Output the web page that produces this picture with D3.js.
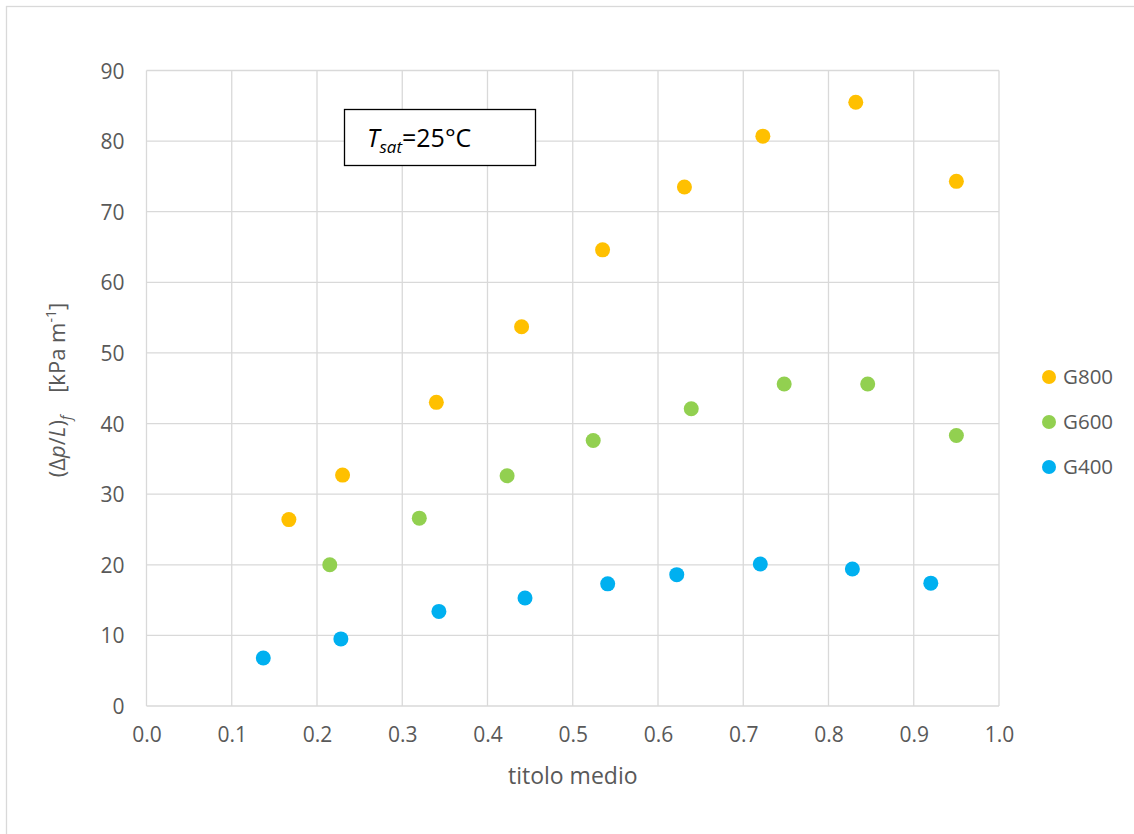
<!DOCTYPE html>
<html>
<head>
<meta charset="utf-8">
<script src="https://cdn.jsdelivr.net/npm/d3@7"></script>
<style>
  body { margin: 0; background: #fff; }
  svg { font-family: "Open Sans", "DejaVu Sans", sans-serif; }
</style>
</head>
<body>
<div id="chart"></div>
<script>
// values
const xG800 = [0.167, 0.230, 0.340, 0.440, 0.535, 0.631, 0.723, 0.832, 0.950];
const yG800 = [26.4, 32.7, 43.0, 53.7, 64.6, 73.5, 80.7, 85.5, 74.3];
const xG600 = [0.215, 0.320, 0.423, 0.524, 0.639, 0.748, 0.846, 0.950];
const yG600 = [20.0, 26.6, 32.6, 37.6, 42.1, 45.6, 45.6, 38.3];
const xG400 = [0.137, 0.228, 0.343, 0.444, 0.541, 0.622, 0.720, 0.828, 0.920];
const yG400 = [6.8, 9.5, 13.4, 15.3, 17.3, 18.6, 20.1, 19.4, 17.4];
const seriesNames = ["G800", "G600", "G400"];
const seriesColors = ["#FFC000", "#92D050", "#00B0F0"];
const xTicks = [0, 0.1, 0.2, 0.3, 0.4, 0.5, 0.6, 0.7, 0.8, 0.9, 1.0];
const yTicks = [0, 10, 20, 30, 40, 50, 60, 70, 80, 90];

const series = [
  { name: seriesNames[0], color: seriesColors[0], pts: xG800.map((x, i) => [x, yG800[i]]) },
  { name: seriesNames[1], color: seriesColors[1], pts: xG600.map((x, i) => [x, yG600[i]]) },
  { name: seriesNames[2], color: seriesColors[2], pts: xG400.map((x, i) => [x, yG400[i]]) }
];

const W = 1134, H = 834;
const plot = { left: 146.5, right: 999, top: 70.5, bottom: 706 };
const textColor = "#595959", gridColor = "#d9d9d9";

const svg = d3.select("#chart").append("svg")
  .attr("width", W)
  .attr("height", H);

// outer chart frame
svg.append("rect")
  .attr("x", 6.5).attr("y", 6.5)
  .attr("width", W + 20).attr("height", H + 20)
  .attr("fill", "none")
  .attr("stroke", gridColor)
  .attr("stroke-width", 1.3);

const x = d3.scaleLinear().domain([0, 1]).range([plot.left, plot.right]);
const y = d3.scaleLinear().domain([0, 90]).range([plot.bottom, plot.top]);

// gridlines
const grid = svg.append("g").attr("stroke", gridColor).attr("stroke-width", 1.3);
grid.selectAll("line.v")
  .data(xTicks)
  .join("line")
  .attr("x1", d => x(d)).attr("x2", d => x(d))
  .attr("y1", plot.top).attr("y2", plot.bottom);
grid.selectAll("line.h")
  .data(yTicks)
  .join("line")
  .attr("x1", plot.left).attr("x2", plot.right)
  .attr("y1", d => y(d)).attr("y2", d => y(d));

// axes (labels only, lines come from the grid)
const xAxis = svg.append("g")
  .attr("transform", `translate(0,${plot.bottom})`)
  .call(d3.axisBottom(x).tickValues(xTicks).tickFormat(d3.format(".1f")).tickSize(0).tickPadding(22));
const yAxis = svg.append("g")
  .attr("transform", `translate(${plot.left},0)`)
  .call(d3.axisLeft(y).tickValues(yTicks).tickSize(0).tickPadding(22));
[xAxis, yAxis].forEach(a => {
  a.select(".domain").remove();
  a.selectAll("text")
    .attr("fill", textColor)
    .style("font-size", "21px")
    .style("font-family", "\"Open Sans\", sans-serif");
});
xAxis.selectAll("text").attr("dy", "0.68em");
yAxis.selectAll("text").attr("dy", "0.36em");

// points
series.forEach(s => {
  svg.append("g")
    .selectAll("circle")
    .data(s.pts)
    .join("circle")
    .attr("cx", d => x(d[0]))
    .attr("cy", d => y(d[1]))
    .attr("r", 7.5)
    .attr("fill", s.color);
});

// axis titles
svg.append("text")
  .attr("x", (plot.left + plot.right) / 2)
  .attr("y", 784)
  .attr("text-anchor", "middle")
  .attr("fill", textColor)
  .style("font-size", "23px")
  .text("titolo medio");

const yt = svg.append("text")
  .attr("transform", "translate(65,390) rotate(-90)")
  .attr("text-anchor", "middle")
  .attr("fill", textColor)
  .style("font-size", "22px");
yt.append("tspan").text("(Δ");
yt.append("tspan").style("font-style", "italic").text("p");
yt.append("tspan").text("/");
yt.append("tspan").style("font-style", "italic").text("L");
yt.append("tspan").text(")");
yt.append("tspan").attr("dy", 6).style("font-size", "14px").style("font-style", "italic").text("f");
yt.append("tspan").attr("dy", -6).text("\u00a0\u00a0\u00a0\u00a0[kPa m");
yt.append("tspan").attr("dy", -9).style("font-size", "14px").text("-1");
yt.append("tspan").attr("dy", 9).text("]");

// annotation box
svg.append("rect")
  .attr("x", 344.5).attr("y", 109.5)
  .attr("width", 191).attr("height", 56)
  .attr("fill", "#fff")
  .attr("stroke", "#000")
  .attr("stroke-width", 1.3);
const ann = svg.append("text")
  .attr("x", 367).attr("y", 147)
  .attr("fill", "#000")
  .style("font-size", "25px");
ann.append("tspan").style("font-style", "italic").text("T");
ann.append("tspan").attr("dy", 6).style("font-size", "17px").style("font-style", "italic").text("sat");
ann.append("tspan").attr("dy", -6).text("=25°C");

// legend
const legend = svg.append("g")
  .selectAll("g")
  .data(series)
  .join("g")
  .attr("transform", (d, i) => `translate(1049,${377 + i * 45})`);
legend.append("circle").attr("r", 7).attr("fill", d => d.color);
legend.append("text")
  .attr("x", 14).attr("dy", "0.36em")
  .attr("fill", textColor)
  .style("font-size", "20.5px")
  .text(d => d.name);
</script>
</body>
</html>
